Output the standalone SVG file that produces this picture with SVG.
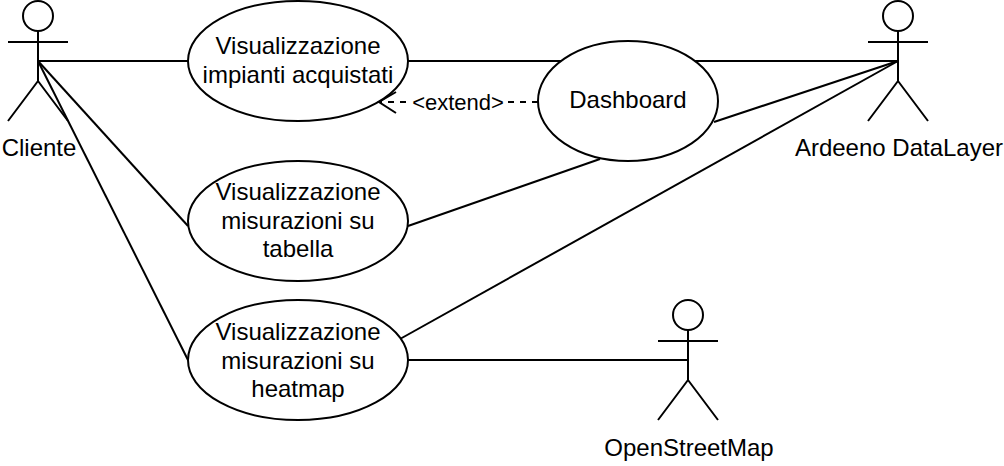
<svg xmlns="http://www.w3.org/2000/svg" width="1004" height="466" viewBox="0 0 1004 466">
<style>
.s{fill:none;stroke:#000;stroke-width:2}
.e{fill:#fff;stroke:#000;stroke-width:2}
text{font-family:"Liberation Sans",Arial,sans-serif;font-size:24px;text-anchor:middle;fill:#000}
</style>
<rect width="1004" height="466" fill="#fff"/>
<g id="connectors" class="s">
<path d="M38 61H188"/>
<path d="M38 61L188 226"/>
<path d="M38 61L188 360"/>
<path d="M408 61H898"/>
<path d="M408 226L600 159"/>
<path d="M714 122L898 61"/>
<path d="M400 339L898 61"/>
<path d="M408 360H688"/>
</g>
<g id="cliente"><circle class="e" cx="38" cy="16" r="15"/><path class="s" d="M38 31V81M8 42H68M38 81L8 121M38 81L68 121"/><text x="39" y="156">Cliente</text></g>
<g id="ardeeno"><circle class="e" cx="898" cy="16" r="15"/><path class="s" d="M898 31V81M868 42H928M898 81L868 121M898 81L928 121"/><text x="899" y="156">Ardeeno DataLayer</text></g>
<g id="osm"><circle class="e" cx="688" cy="315" r="15"/><path class="s" d="M688 330V380M658 341H718M688 380L658 420M688 380L718 420"/><text x="689" y="456">OpenStreetMap</text></g>
<g id="uc1"><ellipse class="e" cx="298" cy="61" rx="110" ry="60"/><text x="298" y="54">Visualizzazione</text><text x="298" y="83">impianti acquistati</text></g>
<g id="uc2"><ellipse class="e" cx="298" cy="221" rx="110" ry="60"/><text x="298" y="200">Visualizzazione</text><text x="298" y="229">misurazioni su</text><text x="298" y="257">tabella</text></g>
<g id="uc3"><ellipse class="e" cx="298" cy="360" rx="110" ry="60"/><text x="298" y="340">Visualizzazione</text><text x="298" y="369">misurazioni su</text><text x="298" y="397">heatmap</text></g>
<g id="dash"><ellipse class="e" cx="628" cy="101" rx="90" ry="60"/><text x="628" y="108">Dashboard</text></g>
<g id="extend" class="s">
<path d="M538 102H380" stroke-dasharray="6 6"/>
<path d="M396 92L379 102L396 113"/>
</g>
<rect x="412" y="92" width="93" height="22" fill="#fff"/>
<text x="458" y="110" style="font-size:22px">&lt;extend&gt;</text>
</svg>
